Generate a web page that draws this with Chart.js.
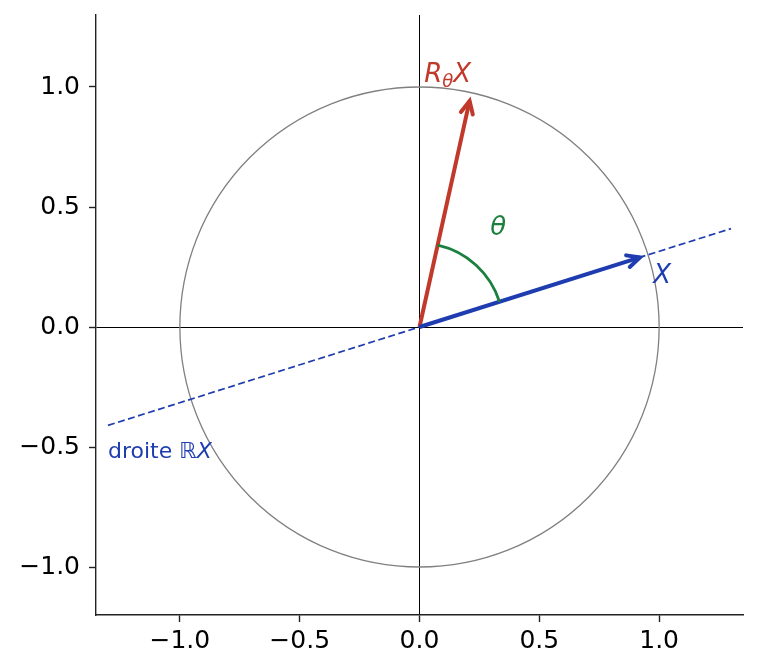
<!DOCTYPE html>
<html>
<head>
<meta charset="utf-8">
<script src="https://cdn.jsdelivr.net/npm/chart.js@4/dist/chart.umd.min.js"></script>
<style>
  html, body { margin: 0; padding: 0; background: #fff; }
  #wrap { width: 759px; height: 672px; position: relative; }
</style>
</head>
<body>
<div id="wrap"><canvas id="chartrot"></canvas></div>
<script>
// values
var xRange = [-1.35, 1.35];
var yRange = [-1.2, 1.3];
var xTicks = [-1.0, -0.5, 0.0, 0.5, 1.0];
var yTicks = [-1.0, -0.5, 0.0, 0.5, 1.0];
var vecX = [0.92, 0.29];          // X
var vecRX = [0.209, 0.942];       // R_theta X
var lineStart = [-1.3, -0.41];    // droite RX
var lineEnd = [1.3, 0.41];
var circleR = 1.0;
var arcR = 0.35;
var thetaDeg = 60;

var BLUE = '#1f3db0';
var RED = '#c0392b';
var GREEN = '#1b7f3e';
var FONT = "'DejaVu Sans', sans-serif";

function fmt(v) {
    return (v < 0 ? '\u2212' : '') + Math.abs(v).toFixed(1);
}

function drawHead(ctx, x0, y0, x1, y1, color) {
    var a = Math.atan2(y1 - y0, x1 - x0);
    var len = 14, spread = 0.45;
    ctx.save();
    ctx.strokeStyle = color;
    ctx.lineWidth = 4;
    ctx.lineJoin = 'miter';
    ctx.lineCap = 'round';
    ctx.beginPath();
    ctx.moveTo(x1 - len * Math.cos(a - spread), y1 - len * Math.sin(a - spread));
    ctx.lineTo(x1, y1);
    ctx.lineTo(x1 - len * Math.cos(a + spread), y1 - len * Math.sin(a + spread));
    ctx.stroke();
    ctx.restore();
}

// circle, angle arc, arrow heads and labels
var extras = {
    id: 'extras',
    beforeDatasetsDraw: function(chart) {
        var ctx = chart.ctx, sx = chart.scales.x, sy = chart.scales.y;
        var cx = sx.getPixelForValue(0), cy = sy.getPixelForValue(0);
        ctx.save();
        ctx.strokeStyle = '#808080';
        ctx.lineWidth = 1.3;
        ctx.beginPath();
        ctx.ellipse(cx, cy, sx.getPixelForValue(circleR) - cx, cy - sy.getPixelForValue(circleR), 0, 0, Math.PI * 2);
        ctx.stroke();
        ctx.restore();
    },
    afterDatasetsDraw: function(chart) {
        var ctx = chart.ctx, sx = chart.scales.x, sy = chart.scales.y;
        var cx = sx.getPixelForValue(0), cy = sy.getPixelForValue(0);

        // angle arc
        var a0 = Math.atan2(vecX[1], vecX[0]);
        var a1 = a0 + thetaDeg * Math.PI / 180;
        var rpx = sx.getPixelForValue(arcR) - cx;
        ctx.save();
        ctx.strokeStyle = GREEN;
        ctx.lineWidth = 2.8;
        ctx.beginPath();
        ctx.arc(cx, cy, rpx, -a1, -a0);
        ctx.stroke();
        ctx.restore();

        // arrow heads
        [[1, BLUE], [2, RED]].forEach(function(d) {
            var pts = chart.getDatasetMeta(d[0]).data;
            drawHead(ctx, pts[0].x, pts[0].y, pts[1].x, pts[1].y, d[1]);
        });

        ctx.save();
        ctx.textBaseline = 'alphabetic';
        ctx.textAlign = 'left';

        // R_theta X
        var x = sx.getPixelForValue(0.02), y = sy.getPixelForValue(1.02);
        ctx.fillStyle = RED;
        ctx.font = 'italic 26px ' + FONT;
        ctx.fillText('R', x, y);
        x += ctx.measureText('R').width;
        ctx.font = 'italic 18px ' + FONT;
        ctx.fillText('\u03b8', x, y + 5);
        x += ctx.measureText('\u03b8').width;
        ctx.font = 'italic 26px ' + FONT;
        ctx.fillText('X', x, y);

        // theta
        ctx.fillStyle = GREEN;
        ctx.font = 'italic 26px ' + FONT;
        ctx.fillText('\u03b8', sx.getPixelForValue(0.295), sy.getPixelForValue(0.383));

        // X
        ctx.fillStyle = BLUE;
        ctx.font = 'italic 26px ' + FONT;
        ctx.fillText('X', sx.getPixelForValue(0.975), sy.getPixelForValue(0.183));

        // droite RX
        x = sx.getPixelForValue(-1.3);
        y = sy.getPixelForValue(-0.546);
        ctx.font = '22px ' + FONT;
        ctx.fillText('droite ', x, y);
        x += ctx.measureText('droite ').width;
        ctx.fillText('\u211d', x, y);
        x += ctx.measureText('\u211d').width;
        ctx.font = 'italic 22px ' + FONT;
        ctx.fillText('X', x, y);
        ctx.restore();
    }
};

var ctx = document.getElementById('chartrot').getContext('2d');
var chart = new Chart(ctx, {
    type: 'scatter',
    data: {
        datasets: [{
            // dashed line R.X
            data: [{x: lineStart[0], y: lineStart[1]}, {x: lineEnd[0], y: lineEnd[1]}],
            showLine: true,
            borderColor: BLUE,
            borderWidth: 1.7,
            borderDash: [7, 3.5],
            pointRadius: 0
        }, {
            data: [{x: 0, y: 0}, {x: vecX[0], y: vecX[1]}],
            showLine: true,
            borderColor: BLUE,
            borderWidth: 4,
            pointRadius: 0
        }, {
            data: [{x: 0, y: 0}, {x: vecRX[0], y: vecRX[1]}],
            showLine: true,
            borderColor: RED,
            borderWidth: 4,
            pointRadius: 0
        }]
    },
    options: {
        responsive: true,
        maintainAspectRatio: false,
        animation: false,
        events: [],
        layout: { padding: { top: 15, right: 16, left: 0, bottom: 0 } },
        plugins: { legend: { display: false }, tooltip: { enabled: false } },
        scales: {
            x: {
                type: 'linear',
                min: xRange[0],
                max: xRange[1],
                afterBuildTicks: function(axis) {
                    axis.ticks = xTicks.map(function(v) { return {value: v}; });
                },
                afterFit: function(axis) {
                    axis.height = 57;
                    axis.paddingLeft = 0;
                    axis.paddingRight = 0;
                },
                border: { color: '#222', width: 1.4 },
                grid: {
                    color: function(c) { return c.tick && c.tick.value === 0 ? '#000' : 'rgba(0,0,0,0)'; },
                    lineWidth: 1,
                    tickColor: '#222',
                    tickLength: 7,
                    tickWidth: 1.4
                },
                ticks: {
                    color: '#000',
                    font: { family: FONT, size: 25 },
                    padding: 4,
                    maxRotation: 0,
                    callback: fmt
                }
            },
            y: {
                type: 'linear',
                min: yRange[0],
                max: yRange[1],
                afterBuildTicks: function(axis) {
                    axis.ticks = yTicks.map(function(v) { return {value: v}; });
                },
                afterFit: function(axis) {
                    axis.width = 96;
                    axis.paddingTop = 0;
                    axis.paddingBottom = 0;
                },
                border: { color: '#222', width: 1.4 },
                grid: {
                    color: function(c) { return c.tick && c.tick.value === 0 ? '#000' : 'rgba(0,0,0,0)'; },
                    lineWidth: 1,
                    tickColor: '#222',
                    tickLength: 7,
                    tickWidth: 1.4
                },
                ticks: {
                    color: '#000',
                    font: { family: FONT, size: 25 },
                    padding: 9,
                    callback: fmt
                }
            }
        }
    },
    plugins: [extras]
});
</script>
</body>
</html>
